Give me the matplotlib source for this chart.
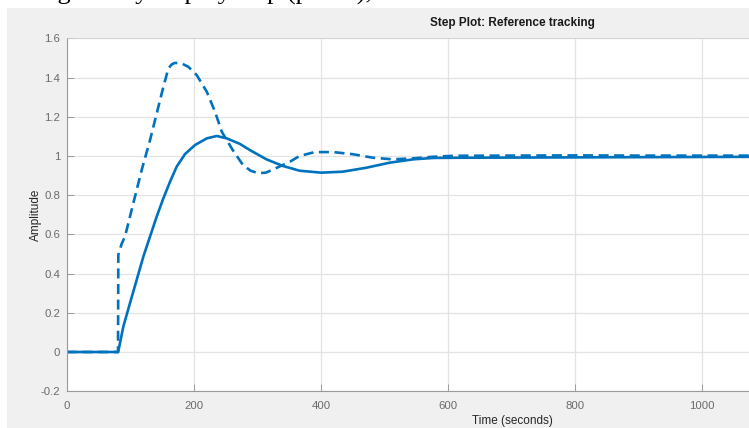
import numpy as np
import matplotlib
matplotlib.use('Agg')
import matplotlib.pyplot as plt
from matplotlib.patches import Rectangle

# Step response (time in seconds, amplitude)
time_solid = [0, 80.5, 88.7, 99.2, 109.7, 120.2, 130.7, 141.2, 151.7, 162.2, 172.7,
              185.8, 201.6, 220, 235.7, 251.5, 272, 288, 314, 340, 366, 400, 434,
              471, 508, 545, 576, 612, 700, 800, 900, 1000, 1100]
amp_solid = [0, 0, 0.13, 0.25, 0.368, 0.487, 0.589, 0.691, 0.784, 0.869, 0.946,
             1.010, 1.056, 1.090, 1.102, 1.090, 1.062, 1.03, 0.983, 0.949, 0.925, 0.915,
             0.920, 0.940, 0.966, 0.983, 0.990, 0.991, 0.992, 0.993, 0.994, 0.995, 0.996]

time_dash = [0, 80.3, 80.8, 86, 91.3, 104.4, 117.6, 130.7, 141.2, 151.7, 159.6, 165,
             170, 180.6, 191, 204.2, 220, 233, 243.6, 252, 261, 277, 289, 301, 313,
             325, 351, 366, 390, 419, 450, 482, 513, 545, 576, 608, 700, 800, 900,
             1000, 1100]
amp_dash = [0, 0, 0.496, 0.552, 0.589, 0.759, 0.929, 1.081, 1.217, 1.353, 1.447, 1.468,
            1.475, 1.472, 1.455, 1.413, 1.328, 1.226, 1.124, 1.078, 1.03, 0.954, 0.925,
            0.912, 0.915, 0.932, 0.971, 1.0, 1.020, 1.020, 1.009, 0.991, 0.983, 0.988,
            0.996, 1.001, 1.002, 1.003, 1.002, 1.002, 1.002]

y_ticks = [-0.2, 0, 0.2, 0.4, 0.6, 0.8, 1, 1.2, 1.4, 1.6]
y_tick_labels = ['-0.2', '0', '0.2', '0.4', '0.6', '0.8', '1', '1.2', '1.4', '1.6']
x_ticks = [0, 200, 400, 600, 800, 1000]

W, H = 749, 428
line_color = '#0072BD'
label_color = '#6a6a6a'

plt.rcParams['font.family'] = ['Liberation Sans', 'DejaVu Sans']

fig = plt.figure(figsize=(W / 100, H / 100), dpi=100, facecolor='white')

# grey matlab figure background (the crop leaves a white strip top and left)
fig.patches.append(Rectangle((7 / W, 0), 1 - 7 / W, (H - 8) / H, transform=fig.transFigure,
                             facecolor='#f0f0f0', edgecolor='none', zorder=-5))

# cut-off line of document text above the figure, only descenders show
fig.text(37 / W, 1 + 0.5 / H, 'ing and by step by step (p=0.1),', family='Liberation Serif',
         fontsize=19, ha='left', va='baseline', color='black')

# axes run past the right edge of the crop
ax_left, ax_top, ax_bottom, ax_right = 67, 38.4, 391.2, 957
ax = fig.add_axes([ax_left / W, (H - ax_bottom) / H, (ax_right - ax_left) / W,
                   (ax_bottom - ax_top) / H])
ax.set_zorder(2)
ax.set_facecolor('white')

ax.plot(time_solid, amp_solid, color=line_color, lw=1.9, solid_joinstyle='round')
ax.plot(time_dash, amp_dash, color=line_color, lw=1.9, linestyle=(0, (3.8, 2.1)),
        dash_joinstyle='round')

ax.set_xlim(0, 1401)
ax.set_ylim(-0.2, 1.6)
ax.set_xticks(x_ticks)
ax.set_yticks(y_ticks)
ax.set_yticklabels(y_tick_labels)
ax.grid(True, color='#e3e3e3', linewidth=0.9)
ax.set_axisbelow(True)

for side in ['left', 'bottom']:
    ax.spines[side].set_color('#9a9a9a')
    ax.spines[side].set_linewidth(0.8)
for side in ['top', 'right']:
    ax.spines[side].set_color('#d0d0d0')
    ax.spines[side].set_linewidth(0.6)

ax.tick_params(direction='in', length=5, width=0.7, color='#9a9a9a',
               labelcolor=label_color, labelsize=8.2, pad=5)
ax.tick_params(axis='x', pad=7)

ax.set_title('Step Plot: Reference tracking', fontsize=8.5, fontweight='bold',
             color='#1a1a1a', pad=9)
ax.set_xlabel('Time (seconds)', fontsize=8.5, color='#262626', labelpad=3)
ax.set_ylabel('Amplitude', fontsize=8.5, color='#262626', labelpad=-1)

fig.savefig('out.png', dpi=100, facecolor=fig.get_facecolor())
